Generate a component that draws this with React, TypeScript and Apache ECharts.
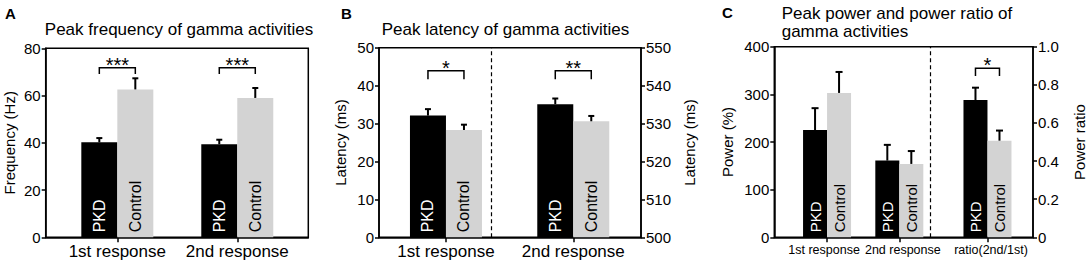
import React, { useEffect, useRef } from 'react';
import * as echarts from 'echarts';

const FONT = '"Liberation Sans", Arial, Helvetica, sans-serif';

// ---------- data ----------
const responseCategories = ['1st response', '2nd response'];
const powerCategories = ['1st response', '2nd response', 'ratio(2nd/1st)'];

// Panel A: peak frequency (Hz)
const freqPkd = [40.2, 39.4];
const freqPkdSem = [1.8, 1.9];
const freqControl = [62.6, 59.0];
const freqControlSem = [4.7, 4.2];
const freqSig = ['***', '***'];
const freqBracketTop = [71.8, 71.8];
const freqBracketLeg = [69.1, 69.1];

// Panel B: peak latency (ms)
const latPkd = [32.1, 35.1];
const latPkdSem = [1.7, 1.5];
const latControl = [28.3, 30.6];
const latControlSem = [1.4, 1.4];
const latSig = ['*', '**'];
const latBracketTop = [43.9, 43.9];
const latBracketLeg = [41.7, 41.7];

// Panel C: peak power (%) and power ratio
const powerPkd = [225, 161];
const powerPkdSem = [46, 33];
const powerControl = [303, 154];
const powerControlSem = [44, 27];
const ratioPkd = [0.72];
const ratioPkdSem = [0.065];
const ratioControl = [0.507];
const ratioControlSem = [0.053];
const ratioSig = ['*'];
const ratioBracketTop = [0.887];
const ratioBracketLeg = [0.846];

// ---------- layout (positions of category groups on x) ----------
const posA = [1, 2];
const posB = [1, 2];
const posC = [1, 2, 3.22];

const BLACK = '#000000';
const GREY = '#d3d3d3';

function labelFor(pos: number[], cats: string[]) {
  return (v: number) => {
    const i = pos.findIndex((p) => Math.abs(p - v) < 1e-6);
    return i >= 0 ? cats[i] : '';
  };
}

function xAxisDef(gridIndex: number, min: number, max: number, tickPos: number[], labelPos: number[], allPos: number[], cats: string[], fontSize: number, showLine = true, padding: number[] = [0, 0, 0, 0]) {
  return {
    type: 'value',
    gridIndex,
    position: 'bottom',
    min,
    max,
    axisLine: { show: showLine, lineStyle: { color: BLACK, width: 1.5 } },
    axisTick: { show: tickPos.length > 0, customValues: tickPos, length: 5, lineStyle: { color: BLACK, width: 1.5 } },
    axisLabel: {
      show: true,
      customValues: labelPos,
      showMinLabel: true,
      showMaxLabel: true,
      hideOverlap: false,
      margin: 6,
      padding,
      color: BLACK,
      fontFamily: FONT,
      fontSize,
      formatter: labelFor(allPos, cats),
    },
    splitLine: { show: false },
  };
}

function yAxisDef(gridIndex: number, min: number, max: number, interval: number, name: string, nameGap: number, position: string, formatter?: (v: number) => string) {
  return {
    type: 'value',
    gridIndex,
    min,
    max,
    interval,
    position,
    name,
    nameLocation: 'middle',
    nameGap,
    nameTextStyle: { color: BLACK, fontFamily: FONT, fontSize: 15 },
    axisLine: { show: true, lineStyle: { color: BLACK, width: 1.5 } },
    axisTick: { show: true, length: 4, lineStyle: { color: BLACK, width: 1.5 } },
    axisLabel: { margin: 5, color: BLACK, fontFamily: FONT, fontSize: 15, showMinLabel: true, showMaxLabel: true, formatter },
    splitLine: { show: false },
  };
}

function barSeries(xi: number, yi: number, pos: number[], vals: number[], color: string, text: string, textColor: string, fontSize: number, bw: number, dashedAt?: number) {
  const s: any = {
    type: 'bar',
    xAxisIndex: xi,
    yAxisIndex: yi,
    data: pos.map((p, i) => [p, vals[i]]),
    barWidth: bw,
    barGap: '0%',
    itemStyle: { color },
    z: 2,
    label: {
      show: true,
      position: 'insideBottom',
      distance: 5,
      rotate: 90,
      align: 'left',
      verticalAlign: 'middle',
      formatter: text,
      color: textColor,
      fontFamily: FONT,
      fontSize,
    },
  };
  if (dashedAt !== undefined) {
    s.markLine = {
      silent: true,
      symbol: ['none', 'none'],
      label: { show: false },
      lineStyle: { type: [4, 3], color: BLACK, width: 1.2 },
      data: [{ xAxis: dashedAt }],
    };
  }
  return s;
}

function errSeries(xi: number, yi: number, pos: number[], vals: number[], sems: number[], side: number, bw: number, cap: number) {
  return {
    type: 'custom',
    xAxisIndex: xi,
    yAxisIndex: yi,
    z: 5,
    clip: false,
    data: pos.map((p, i) => [p, vals[i], sems[i]]),
    encode: { x: 0, y: 1 },
    renderItem: (params: any, api: any) => {
      const x = api.value(0);
      const v = api.value(1);
      const e = api.value(2);
      const p0 = api.coord([x, v]);
      const p1 = api.coord([x, v + e]);
      const cx = p0[0] + (side * bw) / 2;
      const st = { stroke: BLACK, lineWidth: 2 };
      return {
        type: 'group',
        children: [
          { type: 'line', shape: { x1: cx, y1: p0[1], x2: cx, y2: p1[1] }, style: st },
          { type: 'line', shape: { x1: cx - cap, y1: p1[1], x2: cx + cap, y2: p1[1] }, style: st },
        ],
      };
    },
  };
}

function bracketSeries(xi: number, yi: number, pos: number[], tops: number[], legs: number[], sigs: string[], bw: number) {
  return {
    type: 'custom',
    xAxisIndex: xi,
    yAxisIndex: yi,
    z: 5,
    clip: false,
    data: pos.map((p, i) => [p, tops[i], legs[i]]),
    encode: { x: 0, y: 1 },
    renderItem: (params: any, api: any) => {
      const x = api.value(0);
      const pt = api.coord([x, api.value(1)]);
      const pl = api.coord([x, api.value(2)]);
      const l = pt[0] - bw / 2;
      const r = pt[0] + bw / 2;
      return {
        type: 'group',
        children: [
          {
            type: 'polyline',
            shape: { points: [[l, pl[1]], [l, pt[1]], [r, pt[1]], [r, pl[1]]] },
            style: { stroke: BLACK, lineWidth: 1.5, fill: 'none' },
          },
          {
            type: 'text',
            x: pt[0],
            y: pt[1] - 3,
            style: {
              text: sigs[params.dataIndex],
              fill: BLACK,
              fontFamily: FONT,
              fontSize: 20,
              align: 'center',
              verticalAlign: 'middle',
            },
          },
        ],
      };
    },
  };
}

export default function App() {
  const ref = useRef<HTMLDivElement>(null);

  useEffect(() => {
    document.body.style.margin = '0';
    if (!ref.current) return;
    const chart = echarts.init(ref.current, undefined, { renderer: 'svg' });
    const ratioFmt = (v: number) => (v === 0 ? '0' : v.toFixed(1));

    const option: any = {
      animation: false,
      backgroundColor: '#ffffff',
      textStyle: { fontFamily: FONT },
      grid: [
        { left: 45.7, top: 48.3, width: 262.6, height: 189, show: true, borderColor: BLACK, borderWidth: 1.5, containLabel: false },
        { left: 379, top: 47.7, width: 262, height: 189.6, show: true, borderColor: BLACK, borderWidth: 1.5, containLabel: false },
        { left: 774.3, top: 46.7, width: 265, height: 190.6, show: true, borderColor: BLACK, borderWidth: 1.5, containLabel: false },
      ],
      xAxis: [
        xAxisDef(0, 0.403, 2.592, posA, posA, posA, responseCategories, 17),
        xAxisDef(1, 0.474, 2.532, posB, posB, posB, responseCategories, 17),
        xAxisDef(2, 0.27, 3.85, posC, [posC[0]], posC, powerCategories, 12.5, true, [0, 6, 0, 0]),
        xAxisDef(2, 0.27, 3.85, [], [posC[1], posC[2]], posC, powerCategories, 12.5, false, [0, 0, 0, 7]),
      ],
      yAxis: [
        yAxisDef(0, 0, 80, 20, 'Frequency (Hz)', 29, 'left'),
        yAxisDef(1, 0, 50, 10, 'Latency (ms)', 31, 'left'),
        yAxisDef(1, 500, 550, 10, 'Latency (ms)', 41, 'right'),
        yAxisDef(2, 0, 400, 100, 'Power (%)', 39, 'left'),
        yAxisDef(2, 0, 1, 0.2, 'Power ratio', 39, 'right', ratioFmt),
      ],
      series: [
        // Panel A
        barSeries(0, 0, posA, freqPkd, BLACK, 'PKD', '#ffffff', 16, 36),
        barSeries(0, 0, posA, freqControl, GREY, 'Control', BLACK, 16, 36),
        errSeries(0, 0, posA, freqPkd, freqPkdSem, -1, 36, 3),
        errSeries(0, 0, posA, freqControl, freqControlSem, 1, 36, 3),
        bracketSeries(0, 0, posA, freqBracketTop, freqBracketLeg, freqSig, 36),
        // Panel B
        barSeries(1, 1, posB, latPkd, BLACK, 'PKD', '#ffffff', 16, 36, 1.5),
        barSeries(1, 1, posB, latControl, GREY, 'Control', BLACK, 16, 36),
        errSeries(1, 1, posB, latPkd, latPkdSem, -1, 36, 3),
        errSeries(1, 1, posB, latControl, latControlSem, 1, 36, 3),
        bracketSeries(1, 1, posB, latBracketTop, latBracketLeg, latSig, 36),
        // Panel C (power)
        barSeries(2, 3, posC.slice(0, 2), powerPkd, BLACK, 'PKD', '#ffffff', 15, 24, 2.6),
        barSeries(2, 3, posC.slice(0, 2), powerControl, GREY, 'Control', BLACK, 15, 24),
        errSeries(2, 3, posC.slice(0, 2), powerPkd, powerPkdSem, -1, 24, 3.5),
        errSeries(2, 3, posC.slice(0, 2), powerControl, powerControlSem, 1, 24, 3.5),
        // Panel C (ratio)
        barSeries(3, 4, posC.slice(2), ratioPkd, BLACK, 'PKD', '#ffffff', 15, 24),
        barSeries(3, 4, posC.slice(2), ratioControl, GREY, 'Control', BLACK, 15, 24),
        errSeries(2, 4, posC.slice(2), ratioPkd, ratioPkdSem, -1, 24, 3.5),
        errSeries(2, 4, posC.slice(2), ratioControl, ratioControlSem, 1, 24, 3.5),
        bracketSeries(2, 4, posC.slice(2), ratioBracketTop, ratioBracketLeg, ratioSig, 24),
      ],
      graphic: [
        { type: 'text', left: 5, top: 6, style: { text: 'A', fontFamily: FONT, fontSize: 15, fontWeight: 'bold', fill: BLACK } },
        { type: 'text', left: 341, top: 6, style: { text: 'B', fontFamily: FONT, fontSize: 15, fontWeight: 'bold', fill: BLACK } },
        { type: 'text', left: 722, top: 5, style: { text: 'C', fontFamily: FONT, fontSize: 15, fontWeight: 'bold', fill: BLACK } },
        { type: 'text', x: 179, y: 29, style: { text: 'Peak frequency of gamma activities', fontFamily: FONT, fontSize: 17, fill: BLACK, align: 'center', verticalAlign: 'middle' } },
        { type: 'text', x: 505.5, y: 29, style: { text: 'Peak latency of gamma activities', fontFamily: FONT, fontSize: 17, fill: BLACK, align: 'center', verticalAlign: 'middle' } },
        { type: 'text', x: 781.7, y: 13, style: { text: 'Peak power and power ratio of', fontFamily: FONT, fontSize: 17, fill: BLACK, align: 'left', verticalAlign: 'middle' } },
        { type: 'text', x: 781.7, y: 31, style: { text: 'gamma activities', fontFamily: FONT, fontSize: 17, fill: BLACK, align: 'left', verticalAlign: 'middle' } },
      ],
    };

    chart.setOption(option);
    return () => {
      chart.dispose();
    };
  }, []);

  return <div ref={ref} style={{ width: 1088, height: 263 }} />;
}
